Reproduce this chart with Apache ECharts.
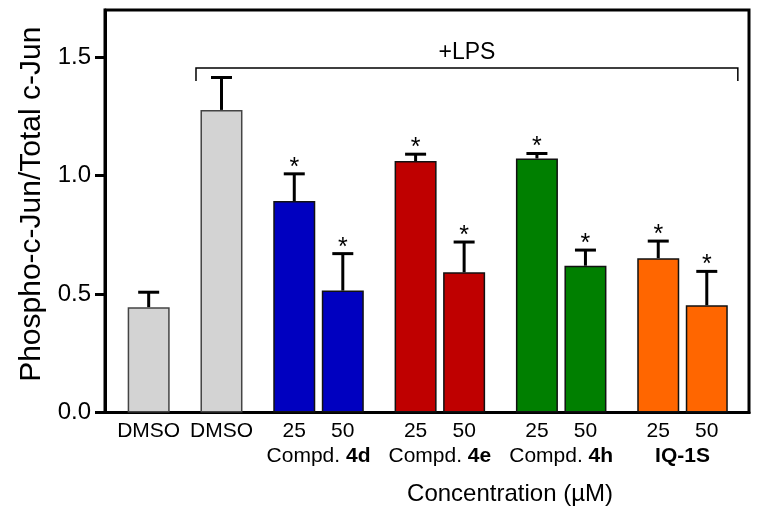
<!DOCTYPE html>
<html>
<head>
<meta charset="utf-8">
<script src="https://cdn.jsdelivr.net/npm/echarts@6/dist/echarts.min.js"></script>
<style>
html, body { margin: 0; padding: 0; background: #fff; }
#chart { width: 765px; height: 510px; }
</style>
</head>
<body>
<div id="chart"></div>
<script>
// bar slots along x, bars grouped in pairs
const barPos = [0, 3, 6, 8, 11, 13, 16, 18, 21, 23];
const barLabels = ['DMSO', 'DMSO', '25', '50', '25', '50', '25', '50', '25', '50'];
const means = [0.445, 1.278, 0.893, 0.515, 1.062, 0.592, 1.073, 0.620, 0.652, 0.453];
const sems = [0.063, 0.137, 0.115, 0.156, 0.029, 0.128, 0.021, 0.066, 0.072, 0.143];
const starred = [0, 0, 1, 1, 1, 1, 1, 1, 1, 1];
const barColors = ['#d3d3d3', '#d3d3d3', '#0000c0', '#0000c0', '#bf0000', '#bf0000',
                   '#007f00', '#007f00', '#ff6600', '#ff6600'];
const groupPos = [7, 12, 17, 22];
const groupLabels = ['Compd. {b|4d}', 'Compd. {b|4e}', 'Compd. {b|4h}', '{b|IQ-1S}'];
const yTicks = [0, 0.5, 1.0, 1.5];
// +LPS bracket: x start, x end, y of bar, y of feet
const lpsBracket = [1.95, 24.28, 1.455, 1.40];

const FONT = '"Liberation Sans", Arial, sans-serif';
const chart = echarts.init(document.getElementById('chart'));

const xBase = {
    type: 'value',
    min: -1.8,
    max: 24.74,
    splitLine: { show: false },
    axisTick: { show: false }
};

const option = {
    animation: false,
    title: {
        text: 'Concentration (µM)',
        left: 510,
        top: 482,
        textAlign: 'center',
        padding: 0,
        textStyle: { fontFamily: FONT, fontSize: 24, fontWeight: 'normal', color: '#000' }
    },
    grid: {
        left: 105, right: 16, top: 10, bottom: 97.5,
        show: true,
        borderColor: '#000',
        borderWidth: 3
    },
    xAxis: [
        Object.assign({}, xBase, {
            axisLine: { show: true, onZero: false, lineStyle: { color: '#000', width: 3 } },
            axisLabel: {
                customValues: barPos,
                formatter: v => barLabels[barPos.indexOf(v)],
                fontFamily: FONT, fontSize: 21, color: '#000', margin: 8
            }
        }),
        Object.assign({}, xBase, {
            position: 'bottom',
            offset: 25,
            axisLine: { show: false, onZero: false },
            axisLabel: {
                customValues: groupPos,
                formatter: v => groupLabels[groupPos.indexOf(v)],
                fontFamily: FONT, fontSize: 21, color: '#000', margin: 8,
                rich: {
                    b: { fontFamily: FONT, fontSize: 21, fontWeight: 'bold', color: '#000' }
                }
            }
        })
    ],
    yAxis: {
        type: 'value',
        min: 0,
        max: 1.7,
        name: 'Phospho-c-Jun/Total c-Jun',
        nameLocation: 'middle',
        nameGap: 58,
        nameTextStyle: { fontFamily: FONT, fontSize: 30, color: '#000', padding: [0, 0, 0, 14] },
        splitLine: { show: false },
        axisLine: { show: true, onZero: false, lineStyle: { color: '#000', width: 3 } },
        axisTick: {
            show: true, length: 10, customValues: yTicks,
            lineStyle: { color: '#000', width: 3 }
        },
        axisLabel: {
            customValues: yTicks,
            formatter: v => v.toFixed(1),
            fontFamily: FONT, fontSize: 24, color: '#000', margin: 14
        }
    },
    series: [
        {
            type: 'bar',
            barWidth: 42,
            data: barPos.map((p, i) => ({
                value: [p, means[i]],
                itemStyle: {
                    color: barColors[i],
                    borderColor: i < 2 ? '#444' : '#111',
                    borderWidth: 1.5
                }
            }))
        },
        {
            type: 'custom',
            data: barPos.map((p, i) => [p, means[i], sems[i], starred[i]]),
            renderItem(params, api) {
                const x = api.value(0), m = api.value(1), s = api.value(2);
                const base = api.coord([x, m]);
                const top = api.coord([x, m + s]);
                const children = [
                    { type: 'line', shape: { x1: base[0], y1: base[1], x2: top[0], y2: top[1] },
                      style: { stroke: '#000', lineWidth: 3 } },
                    { type: 'line', shape: { x1: top[0] - 10.5, y1: top[1], x2: top[0] + 10.5, y2: top[1] },
                      style: { stroke: '#000', lineWidth: 3 } }
                ];
                if (api.value(3)) {
                    children.push({
                        type: 'text',
                        style: { text: '*', x: top[0], y: top[1] - 6, align: 'center', verticalAlign: 'middle',
                                 fontSize: 25, fontFamily: FONT, fill: '#000' }
                    });
                }
                return { type: 'group', children: children };
            },
            z: 3
        },
        {
            type: 'custom',
            data: [lpsBracket],
            renderItem(params, api) {
                const a = api.coord([api.value(0), api.value(2)]);
                const b = api.coord([api.value(1), api.value(2)]);
                const feet = api.coord([api.value(0), api.value(3)])[1];
                return {
                    type: 'group',
                    children: [
                        { type: 'polyline',
                          shape: { points: [[a[0], feet], a, b, [b[0], feet]] },
                          style: { stroke: '#000', lineWidth: 1.5, fill: null } },
                        { type: 'text',
                          style: { text: '+LPS', x: (a[0] + b[0]) / 2, y: a[1] - 4, align: 'center',
                                   verticalAlign: 'bottom', fontSize: 23, fontFamily: FONT, fill: '#000' } }
                    ]
                };
            }
        }
    ]
};

chart.setOption(option);
</script>
</body>
</html>
